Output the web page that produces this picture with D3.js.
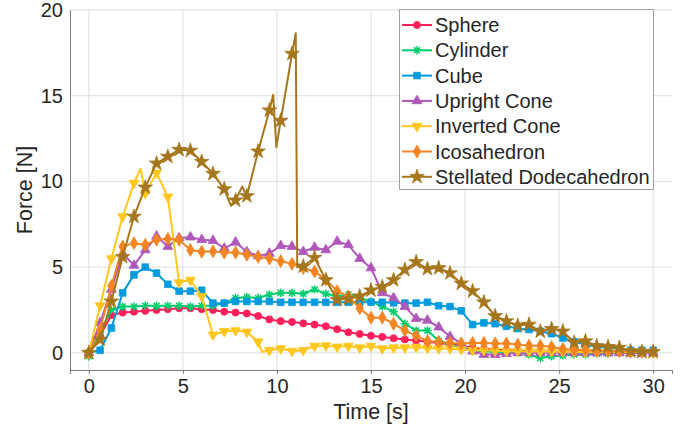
<!DOCTYPE html>
<html>
<head>
<meta charset="utf-8">
<script src="https://cdn.jsdelivr.net/npm/d3@7"></script>
<style>
  body { margin: 0; background: #fff; }
  text { font-family: "Liberation Sans", Arial, Helvetica, sans-serif; fill: #262626; }
</style>
</head>
<body>
<div id="chart"></div>
<script>
// Chart size
const width = 689;
const height = 434;
const margin = { top: 10, right: 17, bottom: 64, left: 70 };

// Sampling times of the markers [s]
const time = [0, 0.6, 1.2, 1.8, 2.4, 3.0, 3.6, 4.2, 4.8, 5.4, 6.0, 6.6, 7.2, 7.8, 8.4, 9.0, 9.6,
  10.2, 10.8, 11.4, 12.0, 12.6, 13.2, 13.8, 14.4, 15.0, 15.6, 16.2, 16.8, 17.4, 18.0, 18.6, 19.2,
  19.8, 20.4, 21.0, 21.6, 22.2, 22.8, 23.4, 24.0, 24.6, 25.2, 25.8, 26.4, 27.0, 27.6, 28.2, 28.8,
  29.4, 30.0];

// Force [N] of each shape at those times
const sphere = [0, 1.0, 2.2, 2.35, 2.4, 2.45, 2.5, 2.55, 2.6, 2.6, 2.55, 2.5, 2.4, 2.35, 2.3, 2.15,
  1.95, 1.85, 1.8, 1.72, 1.65, 1.55, 1.38, 1.2, 1.1, 1.0, 0.93, 0.85, 0.78, 0.72, 0.65, 0.58, 0.5,
  0.42, 0.3, 0.22, 0.18, 0.15, 0.12, 0.1, 0.08, 0.07, 0.06, 0.05, 0.05, 0.05, 0.04, 0.04, 0.03, 0.03, 0.03];
const cylinder = [-0.2, 1.2, 2.5, 2.7, 2.7, 2.75, 2.75, 2.75, 2.75, 2.7, 2.75, 2.75, 2.9, 3.2, 3.25,
  3.2, 3.4, 3.5, 3.5, 3.45, 3.7, 3.45, 3.3, 3.4, 3.2, 3.0, 2.7, 2.4, 1.7, 1.3, 1.3, 0.7, 0.5, 0.3,
  0.15, 0.1, 0.05, 0.0, 0.0, -0.1, -0.3, -0.2, -0.15, -0.1, -0.1, -0.05, -0.05, 0, 0, 0, 0];
const cube = [0, 0.15, 1.45, 3.5, 4.55, 5.0, 4.65, 4.0, 3.6, 3.6, 3.65, 2.9, 2.9, 3.0, 3.0, 3.0, 3.0,
  2.95, 2.95, 2.95, 2.95, 2.95, 2.95, 2.95, 2.95, 2.95, 2.95, 2.92, 2.9, 2.9, 2.95, 2.75, 2.7, 2.45,
  1.65, 1.75, 1.7, 1.55, 1.42, 1.36, 1.26, 1.12, 0.87, 0.64, 0.48, 0.35, 0.3, 0.2, 0.15, 0.15, 0.15];
const uprightCone = [0, 1.75, 3.7, 5.8, 5.1, 6.0, 6.8, 6.2, 6.7, 6.75, 6.6, 6.55, 6.1, 6.45, 5.9,
  5.65, 5.8, 6.25, 6.2, 5.9, 6.15, 6.0, 6.5, 6.3, 5.5, 4.95, 3.5, 3.2, 2.7, 2.0, 1.9, 1.5, 0.95,
  0.55, 0.1, -0.1, -0.1, -0.05, 0, 0, 0, 0, 0, 0, 0, 0, 0, 0, 0, 0, 0];
const invertedCone = [0, 2.75, 5.5, 7.95, 9.9, 9.3, 10.5, 9.1, 4.1, 4.25, 3.3, 1.05, 1.25, 1.3,
  1.22, 0.65, 0.15, 0.25, 0.1, 0.15, 0.4, 0.42, 0.35, 0.4, 0.3, 0.4, 0.25, 0.3, 0.3, 0.33, 0.28,
  0.25, 0.25, 0.2, 0.15, 0.15, 0.12, 0.1, 0.1, 0.08, 0.08, 0.07, 0.06, 0.05, 0.05, 0.05, 0.05,
  0.05, 0.05, 0.05, 0.05];
const icosahedron = [0, 1.35, 3.9, 6.2, 6.4, 6.3, 6.6, 6.65, 6.6, 6.0, 5.9, 5.92, 5.85, 5.85, 5.72,
  5.6, 5.5, 5.35, 5.2, 4.95, 4.75, 4.27, 3.6, 3.3, 2.6, 2.05, 2.05, 1.7, 1.3, 1.0, 0.68, 0.65, 0.58,
  0.55, 0.58, 0.58, 0.55, 0.55, 0.48, 0.42, 0.42, 0.35, 0.23, 0.17, 0.17, 0.13, 0.13, 0.1, 0.06,
  0.06, 0.06];
const stellated = [0, 0.78, 3.0, 5.6, 7.95, 9.65, 11.05, 11.45, 11.85, 11.8, 11.15, 10.45, 9.55,
  8.9, 9.15, 11.75, 14.15, 13.55, 17.45, 5.05, 5.55, 4.25, 3.1, 3.15, 3.3, 3.65, 3.85, 4.25, 4.85,
  5.3, 4.9, 4.95, 4.65, 4.05, 3.6, 2.95, 2.15, 1.85, 1.6, 1.65, 1.25, 1.4, 1.25, 0.6, 0.68, 0.4,
  0.35, 0.3, 0.1, 0.06, 0.06];

// Samples between markers (line only) [time, force]
const invertedConeExtra = [[2.75, 10.75], [9.2, 0.05]];
const stellatedExtra = [[7.55, 8.6], [8.15, 9.7], [9.8, 15.05], [9.97, 12.0], [11.0, 18.65], [11.08, 5.0]];

const names = ["Sphere", "Cylinder", "Cube", "Upright Cone", "Inverted Cone", "Icosahedron",
  "Stellated Dodecahedron"];
const colors = ["#ff1f5b", "#00cd6c", "#009ade", "#af58ba", "#ffc61e", "#f28522", "#a6761d"];
const values = [sphere, cylinder, cube, uprightCone, invertedCone, icosahedron, stellated];
const extras = [[], [], [], [], invertedConeExtra, [], stellatedExtra];

const xTicks = [0, 5, 10, 15, 20, 25, 30];
const yTicks = [0, 5, 10, 15, 20];

const x = d3.scaleLinear().domain([-1, 31]).range([margin.left, width - margin.right]);
const y = d3.scaleLinear().domain([-1, 20]).range([height - margin.bottom, margin.top]);

// Marker shapes
const asterisk = {
  draw(ctx, size) {
    const r = Math.sqrt(size) / 2;
    const d = r * 0.72;
    ctx.moveTo(-r, 0); ctx.lineTo(r, 0);
    ctx.moveTo(0, -r); ctx.lineTo(0, r);
    ctx.moveTo(-d, -d); ctx.lineTo(d, d);
    ctx.moveTo(-d, d); ctx.lineTo(d, -d);
  }
};
const markers = [
  { type: d3.symbolCircle, size: 40, rot: 0 },
  { type: asterisk, size: 70, rot: 0, stroke: true },
  { type: d3.symbolSquare, size: 44, rot: 0 },
  { type: d3.symbolTriangle, size: 42, rot: 0 },
  { type: d3.symbolTriangle, size: 42, rot: 180 },
  { type: d3.symbolDiamond, size: 48, rot: 0 },
  { type: d3.symbolStar, size: 66, rot: 0 }
];

const svg = d3.select("#chart").append("svg")
  .attr("width", width)
  .attr("height", height);

// Grid
svg.append("g").selectAll("line")
  .data(xTicks)
  .join("line")
  .attr("x1", d => x(d)).attr("x2", d => x(d))
  .attr("y1", margin.top).attr("y2", height - margin.bottom)
  .attr("stroke", "#dedede").attr("stroke-width", 1);
svg.append("g").selectAll("line")
  .data(yTicks)
  .join("line")
  .attr("x1", margin.left).attr("x2", width - margin.right)
  .attr("y1", d => y(d)).attr("y2", d => y(d))
  .attr("stroke", "#dedede").attr("stroke-width", 1);

// Axes
const xAxis = svg.append("g")
  .attr("transform", `translate(0,${height - margin.bottom})`)
  .call(d3.axisBottom(x).tickValues(xTicks).tickSize(4).tickPadding(5));
const yAxis = svg.append("g")
  .attr("transform", `translate(${margin.left},0)`)
  .call(d3.axisLeft(y).tickValues(yTicks).tickSize(0).tickPadding(7));
[xAxis, yAxis].forEach(g => {
  g.select(".domain").attr("stroke", "#7a7a7a");
  g.selectAll(".tick line").attr("stroke", "#7a7a7a");
  g.selectAll(".tick text").attr("font-size", 20).attr("fill", "#262626")
    .style("font-family", "'Liberation Sans', Arial, sans-serif");
});

svg.append("text")
  .attr("x", (x(-1) + x(31)) / 2)
  .attr("y", 419)
  .attr("text-anchor", "middle")
  .attr("font-size", 21.5)
  .text("Time [s]");
svg.append("text")
  .attr("transform", `translate(32,${(y(-1) + y(20)) / 2}) rotate(-90)`)
  .attr("text-anchor", "middle")
  .attr("font-size", 21.5)
  .text("Force [N]");

// Series
const line = d3.line().x(d => x(d[0])).y(d => y(d[1]));
const plot = svg.append("g");

values.forEach((vals, i) => {
  const pts = time.map((t, k) => [t, vals[k]]);
  const all = pts.concat(extras[i]).sort((a, b) => a[0] - b[0]);
  const g = plot.append("g");
  g.append("path")
    .attr("d", line(all))
    .attr("fill", "none")
    .attr("stroke", colors[i])
    .attr("stroke-width", 2)
    .attr("stroke-linejoin", "round");
  const m = markers[i];
  const sym = d3.symbol().type(m.type).size(m.size);
  g.selectAll("path.mk")
    .data(pts)
    .join("path")
    .attr("class", "mk")
    .attr("d", sym)
    .attr("transform", d => `translate(${x(d[0])},${y(d[1])}) rotate(${m.rot})`)
    .attr("fill", m.stroke ? "none" : colors[i])
    .attr("stroke", colors[i])
    .attr("stroke-width", m.stroke ? 1.5 : 0.8);
});

// Legend
const legend = svg.append("g");
const lx = 399, ly = 9, lw = 254, lh = 180, rowH = 25.3;
legend.append("rect")
  .attr("x", lx + 0.5).attr("y", ly + 0.5)
  .attr("width", lw).attr("height", lh)
  .attr("fill", "#fff")
  .attr("stroke", "#a0a0a0");
names.forEach((name, i) => {
  const cy = ly + 16 + i * rowH;
  const row = legend.append("g");
  row.append("line")
    .attr("x1", lx + 3).attr("x2", lx + 33)
    .attr("y1", cy).attr("y2", cy)
    .attr("stroke", colors[i]).attr("stroke-width", 2);
  const m = markers[i];
  row.append("path")
    .attr("d", d3.symbol().type(m.type).size(m.size)())
    .attr("transform", `translate(${lx + 18},${cy}) rotate(${m.rot})`)
    .attr("fill", m.stroke ? "none" : colors[i])
    .attr("stroke", colors[i])
    .attr("stroke-width", m.stroke ? 1.5 : 0.8);
  row.append("text")
    .attr("x", lx + 36)
    .attr("y", cy)
    .attr("dy", "0.35em")
    .attr("font-size", 20)
    .text(name);
});
</script>
</body>
</html>
